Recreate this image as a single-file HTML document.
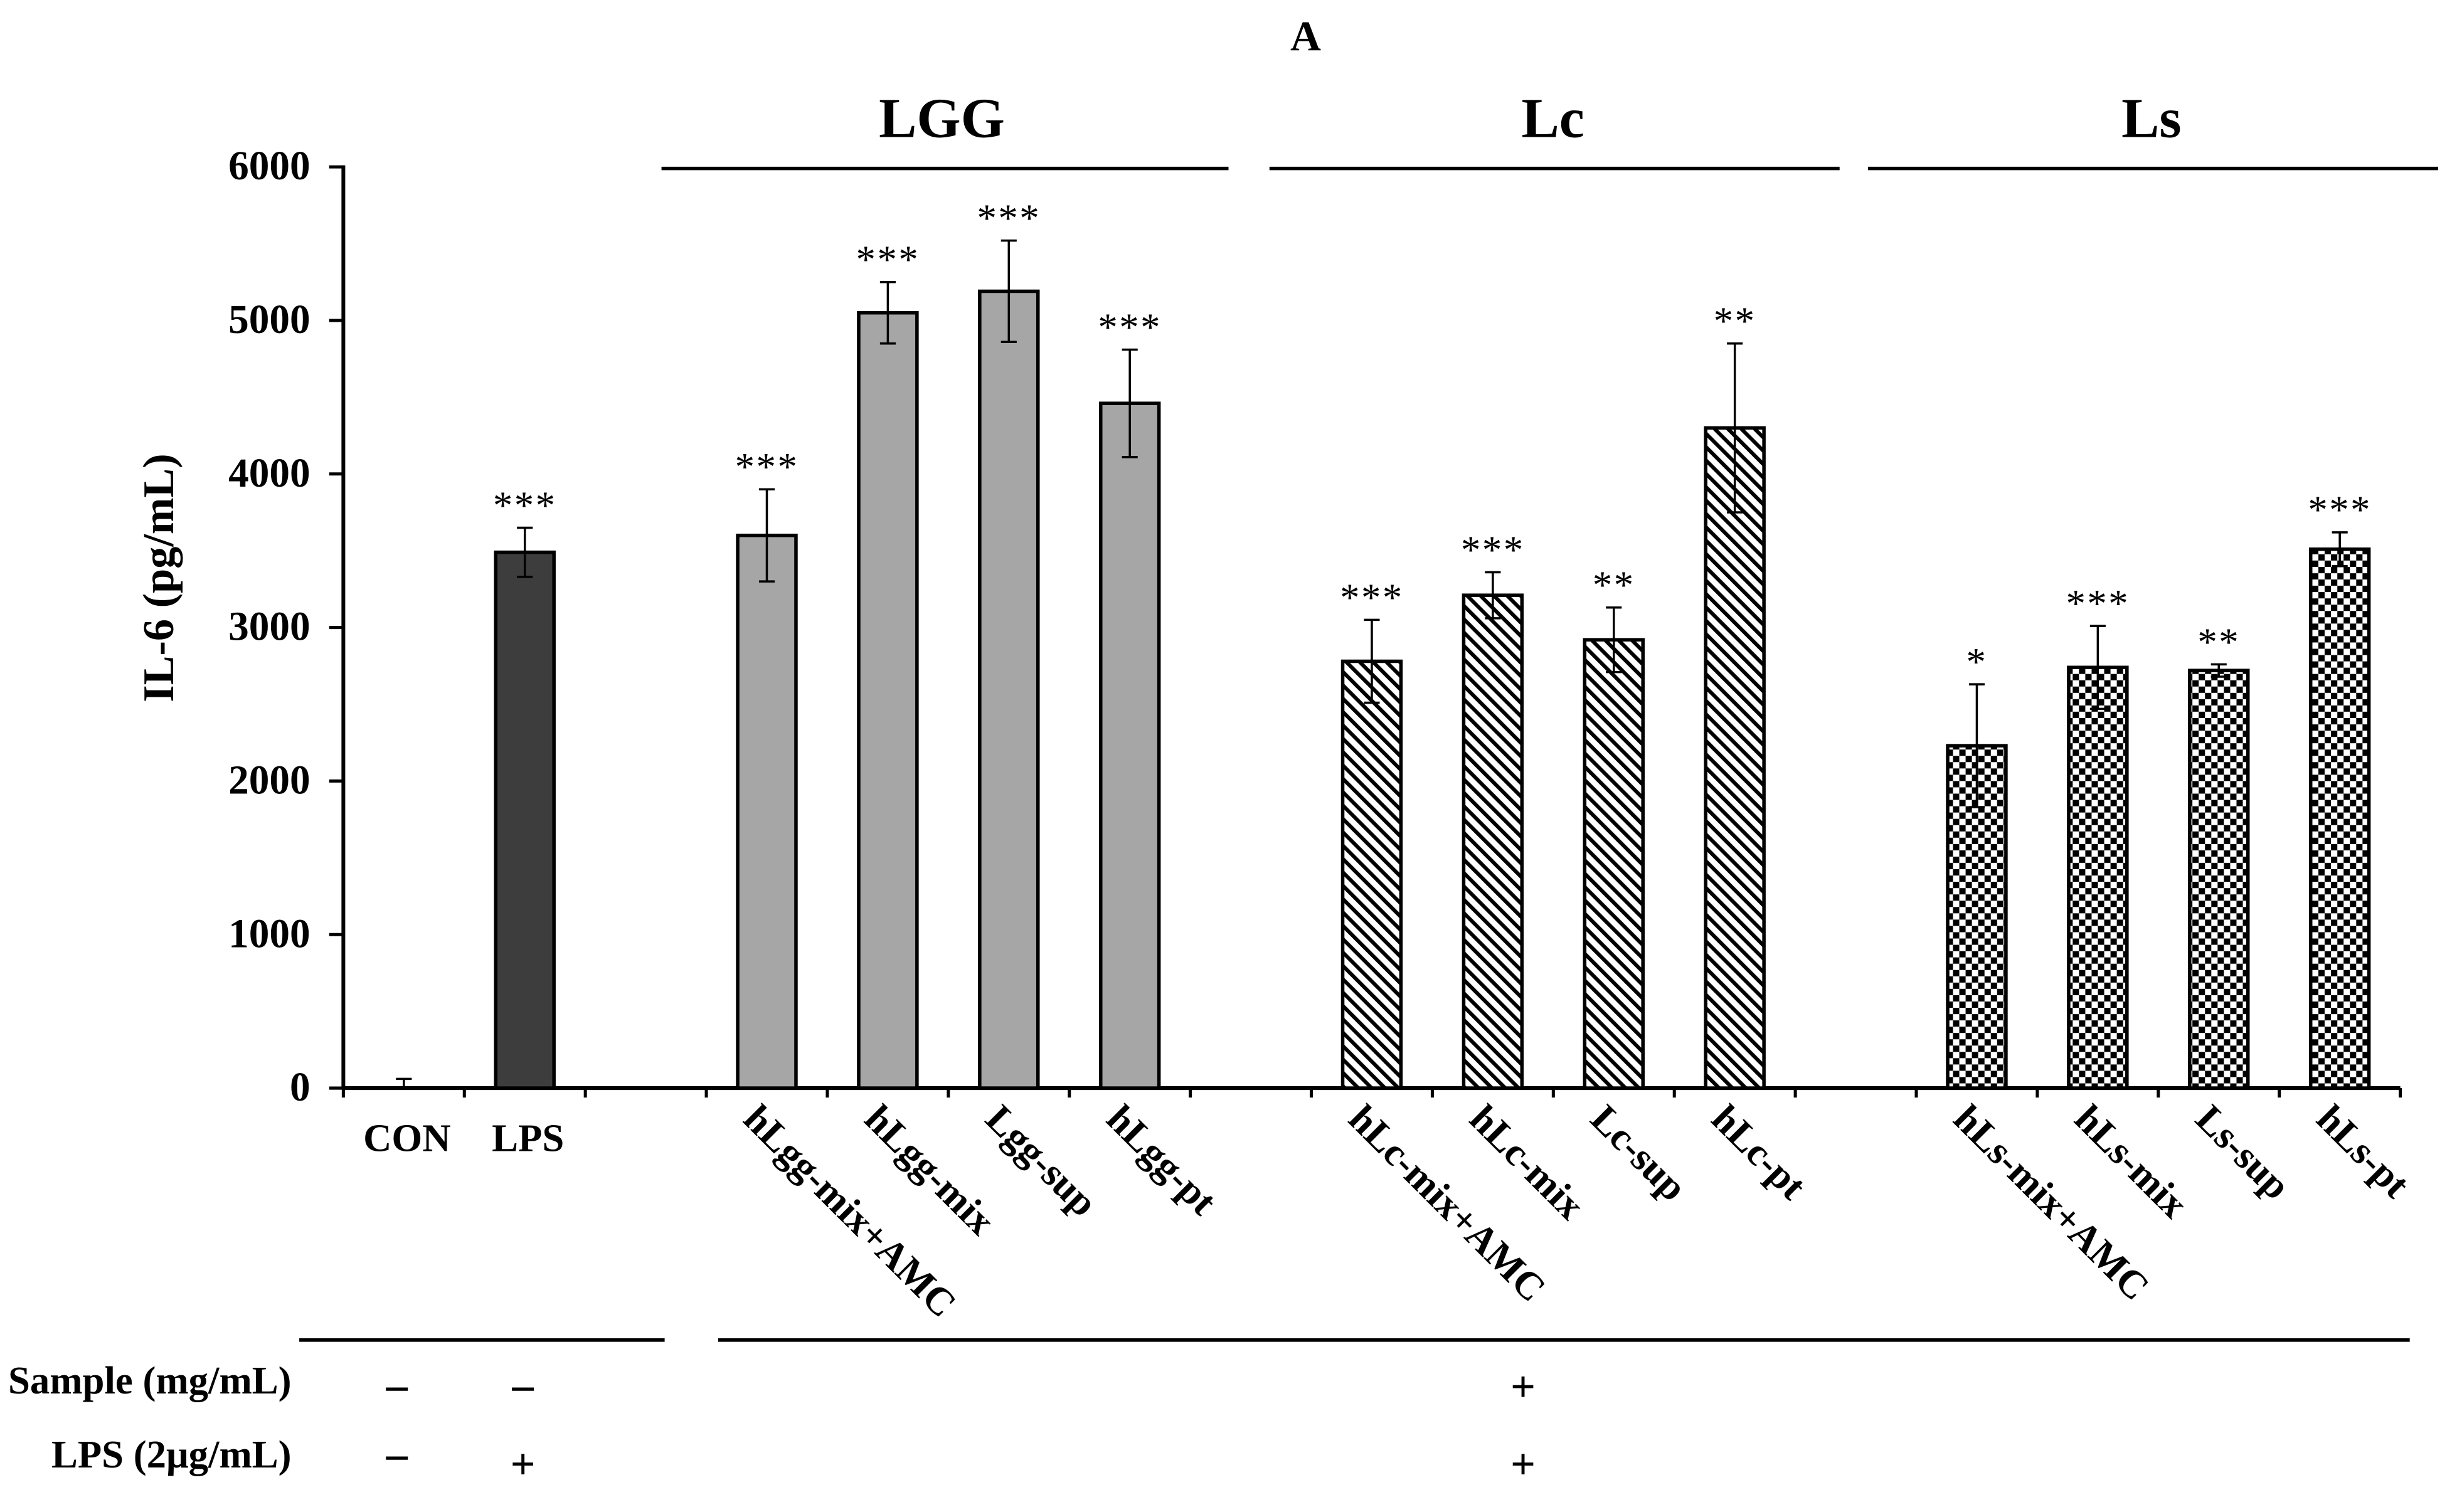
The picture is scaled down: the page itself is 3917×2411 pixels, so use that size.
<!DOCTYPE html>
<html><head><meta charset="utf-8"><style>
html,body{margin:0;padding:0;background:#fff;}
svg{display:block;}
text{font-family:"Liberation Serif",serif;fill:#000;}
</style></head><body>
<svg id="chart" width="3917" height="2411" viewBox="0 0 1560 960.2" preserveAspectRatio="none" xmlns="http://www.w3.org/2000/svg">
<defs>
<pattern id="hatch" patternUnits="userSpaceOnUse" width="6" height="6" patternTransform="rotate(-45)">
<rect width="6" height="6" fill="#fff"/><rect x="0" y="0" width="2.4" height="6" fill="#000"/>
</pattern>
<pattern id="check" patternUnits="userSpaceOnUse" width="8" height="8">
<rect width="8" height="8" fill="#fff"/><rect x="0" y="0" width="4" height="4" fill="#000"/><rect x="4" y="4" width="4" height="4" fill="#000"/>
</pattern>
</defs>
<g id="g"></g>
</svg>
<script>
const categories=["CON","LPS","","hLgg-mix+AMC","hLgg-mix","Lgg-sup","hLgg-pt","","hLc-mix+AMC","hLc-mix","Lc-sup","hLc-pt","","hLs-mix+AMC","hLs-mix","Ls-sup","hLs-pt"];
const values=[0,3490,null,3600,5050,5190,4460,null,2780,3210,2920,4300,null,2230,2740,2720,3510];
const errors=[60,160,null,300,200,330,350,null,270,150,210,550,null,400,270,40,110];
const stars=["","***","","***","***","***","***","","***","***","**","**","","*","***","**","***"];
const fills=["#3d3d3d","#3d3d3d","","#a6a6a6","#a6a6a6","#a6a6a6","#a6a6a6","","url(#hatch)","url(#hatch)","url(#hatch)","url(#hatch)","","url(#check)","url(#check)","url(#check)","url(#check)"];
const yTicks=[0,1000,2000,3000,4000,5000,6000];

const NS="http://www.w3.org/2000/svg";
const g=document.getElementById('g');
const X0=218,X1=1524,Y0=691,YT=106,YMAX=6000;
const slot=(X1-X0)/categories.length;
const xC=i=>X0+slot*(i+0.5);
const yS=v=>Y0-(v/YMAX)*(Y0-YT);
function mk(tag,attrs,txt){const e=document.createElementNS(NS,tag);for(const k in attrs)e.setAttribute(k,attrs[k]);if(txt!==undefined)e.textContent=txt;g.appendChild(e);return e;}

let e=mk('line',{x1:X0,y1:YT-1,x2:X0,y2:Y0+1,stroke:'#000','stroke-width':2.4});


e=mk('line',{x1:X0-1,y1:Y0,x2:X1,y2:Y0,stroke:'#000','stroke-width':2.4});


yTicks.forEach(t=>{
  const y=yS(t);
  let l=mk('line',{x1:X0-9,y1:y,x2:X0,y2:y,stroke:'#000','stroke-width':2});
  
  
  let tx=mk('text',{x:X0-21,y:y+8,'text-anchor':'end','font-size':26,'font-weight':'bold'},String(t));
  
  
});
for(let i=0;i<=categories.length;i++){
  const x=X0+slot*i;
  let l=mk('line',{x1:x,y1:Y0,x2:x,y2:Y0+6,stroke:'#000','stroke-width':2});
  
  
}
const bw=37;
categories.forEach((c,i)=>{
  if(values[i]===null)return;
  const x=xC(i),v=values[i],er=errors[i];
  if(v>0){
    let r=mk('rect',{x:x-bw/2,y:yS(v),width:bw,height:Y0-yS(v),fill:fills[i],stroke:'#000','stroke-width':2.2});
    
    
  }
  let eb=mk('path',{d:`M${x},${yS(v+er)}V${yS(Math.max(0,v-er))}M${x-5},${yS(v+er)}H${x+5}`+(v>0?`M${x-5},${yS(v-er)}H${x+5}`:''),stroke:'#000','stroke-width':1.4,fill:'none'});
  
  
  if(stars[i]){
    let s=mk('text',{x:x,y:yS(v+er)-6,'text-anchor':'middle','font-size':25,'letter-spacing':1},stars[i]);
    
    
  }
  if(i<2){
    let t=mk('text',{x:x+2,y:731,'text-anchor':'middle','font-size':25,'font-weight':'bold'},c);
    
    
  }else{
    const sx=x-16,sy=712;
    let t=mk('text',{x:sx,y:sy,'font-size':25,'font-weight':'bold',transform:`rotate(45 ${sx} ${sy})`},c);
    
    
  }
});
function txt(name,x,y,s,size,anchor,weight){let t=mk('text',{x:x,y:y,'text-anchor':anchor||'middle','font-size':size,'font-weight':weight||'bold'},s);return t;}
function ln(name,x1,x2,y,w){let l=mk('line',{x1:x1,y1:y,x2:x2,y2:y,stroke:'#000','stroke-width':w||2.2});}
txt('panel-label',829,32,'A',27);
txt('group-title-lgg',598,87,'LGG',36);
txt('group-title-lc',986,87,'Lc',36);
txt('group-title-ls',1366,87,'Ls',36);
ln('group-line-lgg',420,780,107);
ln('group-line-lc',806,1168,107);
ln('group-line-ls',1186,1548,107);
let yt=mk('text',{x:0,y:0,'text-anchor':'middle','font-size':28,'font-weight':'bold',transform:'translate(110 367) rotate(-90)'},'IL-6 (pg/mL)');


ln('condition-line-left',190,422,851);
ln('condition-line-right',456,1530,851);
txt('sample-row-label',185,885,'Sample (mg/mL)',25,'end');
txt('lps-row-label',185,932,'LPS (2μg/mL)',25,'end');
txt('sample-con',252,892,'−',30);
txt('sample-lps',332,892,'−',30);
txt('sample-treated',967,890,'+',28);
txt('lps-con',252,936,'−',30);
txt('lps-lps',332,939,'+',28);
txt('lps-treated',967,939,'+',28);
</script>
</body></html>
